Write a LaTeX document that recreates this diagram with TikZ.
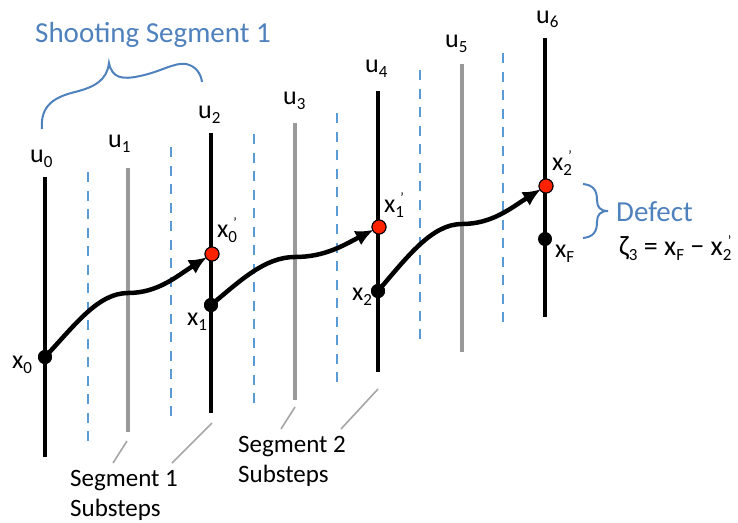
\documentclass[tikz,border=0pt]{standalone}
\usepackage{fontspec}
\setmainfont{Carlito}
\usetikzlibrary{arrows.meta}
\definecolor{dblue}{HTML}{5B9BD5}
\definecolor{tblue}{HTML}{4F81BD}
\definecolor{lgray}{HTML}{999999}
\definecolor{leadgray}{HTML}{A6A6A6}
\definecolor{rdot}{HTML}{FF2200}
\newcommand{\sbs}[1]{\raisebox{-5pt}{\fontsize{17}{17}\selectfont #1}}
\newcommand{\sbsp}[1]{\makebox[0pt][l]{\raisebox{10pt}{\fontsize{14}{14}\selectfont\kern5pt\char"27}}\sbs{#1}}
\tikzset{
  blk/.style={line width=4pt, black},
  gry/.style={line width=4pt, lgray},
  dsh/.style={line width=2.6pt, dblue, dash pattern=on 10pt off 8.5pt},
  traj/.style={line width=4.5pt, black, -{Latex[length=18pt,width=16pt]}, shorten >=6pt},
  bdot/.style={circle, fill=black, inner sep=0pt, minimum size=14pt},
  rdotst/.style={circle, fill=rdot, draw=black, line width=1pt, inner sep=0pt, minimum size=14pt},
  lbl/.style={anchor=base west, inner sep=0pt, font=\fontsize{25}{30}\selectfont, align=left},
  vlbl/.style={lbl, font=\fontsize{26}{30}\selectfont},
  btxt/.style={anchor=base west, inner sep=0pt, font=\fontsize{29}{34}\selectfont, text=tblue},
  lead/.style={line width=1.6pt, leadgray},
  brc/.style={line width=2pt, tblue}
}
\begin{document}
\begin{tikzpicture}[x=1pt,y=-1pt]
\useasboundingbox (0,0) rectangle (738,522);
% dashed substep lines
\draw[dsh] (88,172) -- (88,445);
\draw[dsh] (171,147) -- (171,421);
\draw[dsh] (254,134) -- (254,407);
\draw[dsh] (337,113) -- (337,385);
\draw[dsh] (420,70) -- (420,344);
\draw[dsh] (503,53) -- (503,327);
% gray substep lines
\draw[gry] (128,168) -- (128,432);
\draw[gry] (295,123) -- (295,400);
\draw[gry] (462,64) -- (462,352);
% black segment lines
\draw[blk] (45,177) -- (45,457);
\draw[blk] (211,133) -- (211,413);
\draw[blk] (378,91) -- (378,372);
\draw[blk] (545,38) -- (545,317);
% points
\coordinate (m1) at (128,293);
\coordinate (m2) at (295,257);
\coordinate (m3) at (462,224);
\node[bdot] (x0) at (45,357) {};
\node[bdot] (x1) at (211,305) {};
\node[bdot] (x2) at (378,291) {};
\node[bdot] (xF) at (545,239) {};
\node[rdotst] (x0p) at (212,254) {};
\node[rdotst] (x1p) at (379,227) {};
\node[rdotst] (x2p) at (546,186) {};
% trajectories
\draw[traj] (x0.center) .. controls +(30,-32) and +(-30,0) .. (m1) .. controls +(30,0) and +(-35,22) .. (x0p.center);
\draw[traj] (x1.center) .. controls +(30,-25) and +(-30,0) .. (m2) .. controls +(30,0) and +(-35,18) .. (x1p.center);
\draw[traj] (x2.center) .. controls +(30,-35) and +(-30,0) .. (m3) .. controls +(30,0) and +(-35,22) .. (x2p.center);
\node[bdot] at (x0) {};
\node[bdot] at (x1) {};
\node[bdot] at (x2) {};
\node[rdotst] at (x0p) {};
\node[rdotst] at (x1p) {};
\node[rdotst] at (x2p) {};
% u labels
\node[vlbl] (u0) at (30,162) {u\sbs{0}};
\node[vlbl] (u1) at (108,147) {u\sbs{1}};
\node[vlbl] (u2) at (198,118) {u\sbs{2}};
\node[vlbl] (u3) at (283,104) {u\sbs{3}};
\node[vlbl] (u4) at (365,72) {u\sbs{4}};
\node[vlbl] (u5) at (445,47) {u\sbs{5}};
\node[vlbl] (u6) at (536,23) {u\sbs{6}};
% x labels
\node[vlbl] (lx0) at (12,368) {x\sbs{0}};
\node[vlbl] (lx1) at (187,325) {x\sbs{1}};
\node[vlbl] (lx2) at (352,300) {x\sbs{2}};
\node[vlbl] (lx0p) at (217,237) {x\sbsp{0}};
\node[vlbl] (lx1p) at (384,212) {x\sbsp{1}};
\node[vlbl] (lx2p) at (552,170) {x\sbsp{2}};
\node[vlbl] (lxF) at (555,257) {x\sbs{F}};
% blue texts
\node[btxt] (shoot) at (35,42) {Shooting Segment 1};
\node[btxt] (defect) at (616,221) {Defect};
\node[lbl, font=\fontsize{28}{30}\selectfont] (eq) at (619,255) {ζ\sbs{3} = x\sbs{F} − x\sbsp{2}};
% braces
\draw[brc] (42,129) .. controls (40,105) and (55,97) .. (75,92) .. controls (95,87) and (107,80) .. (109,63)
  .. controls (112,78) and (122,80) .. (140,76) .. controls (160,72) and (175,62) .. (186,64)
  .. controls (196,66) and (201,74) .. (202,82);
\draw[brc] (583,184) .. controls (593,185) and (597,190) .. (597,200) .. controls (597,207) and (600,211) .. (608,211)
  .. controls (600,211) and (597,215) .. (597,222) .. controls (597,232) and (593,237) .. (583,238);
% segment substep labels
\node[lbl] (s1) at (70,516) {Segment 1\\Substeps};
\node[lbl] (s2) at (238,482) {Segment 2\\Substeps};
\coordinate (g1b) at (127,441);
\coordinate (b2b) at (212,423);
\coordinate (g3b) at (295,407);
\coordinate (b4b) at (378,389);
\coordinate (s1a) at (113,463);
\coordinate (s1b) at (172,463);
\coordinate (s2a) at (281,429);
\coordinate (s2b) at (341,429);
\draw[lead] (g1b) -- (s1a);
\draw[lead] (b2b) -- (s1b);
\draw[lead] (g3b) -- (s2a);
\draw[lead] (b4b) -- (s2b);
\end{tikzpicture}
\end{document}
